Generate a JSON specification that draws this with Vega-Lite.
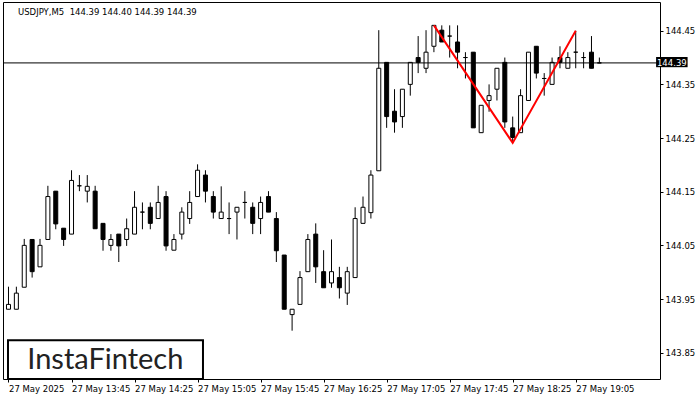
{
  "$schema": "https://vega.github.io/schema/vega-lite/v6.json",
  "width": 657,
  "height": 377,
  "autosize": {"type": "none"},
  "padding": {"left": 3, "top": 2, "right": 40, "bottom": 21},
  "background": "white",
  "config": {"view": {"stroke": "#000", "strokeWidth": 1}, "font": "DejaVu Sans"},
  "title": {"text": "USDJPY,M5 \u00a0144.39 144.40 144.39 144.39", "anchor": "start", "frame": "group", "orient": "top", "offset": -14, "dx": 15, "fontSize": 8.5, "fontWeight": "normal", "font": "DejaVu Sans", "color": "#000"},
  "data": {"values": [
    {"t": "2025-05-27T13:05:00Z", "o": 143.931, "h": 143.973, "l": 143.931, "c": 143.940},
    {"t": "2025-05-27T13:10:00Z", "o": 143.931, "h": 143.973, "l": 143.931, "c": 143.961},
    {"t": "2025-05-27T13:15:00Z", "o": 143.972, "h": 144.062, "l": 143.972, "c": 144.050},
    {"t": "2025-05-27T13:20:00Z", "o": 144.061, "h": 144.061, "l": 143.990, "c": 144.001},
    {"t": "2025-05-27T13:25:00Z", "o": 144.010, "h": 144.062, "l": 144.010, "c": 144.050},
    {"t": "2025-05-27T13:30:00Z", "o": 144.061, "h": 144.161, "l": 144.061, "c": 144.141},
    {"t": "2025-05-27T13:35:00Z", "o": 144.151, "h": 144.151, "l": 144.080, "c": 144.090},
    {"t": "2025-05-27T13:40:00Z", "o": 144.082, "h": 144.082, "l": 144.049, "c": 144.061},
    {"t": "2025-05-27T13:45:00Z", "o": 144.071, "h": 144.190, "l": 144.071, "c": 144.171},
    {"t": "2025-05-27T13:50:00Z", "o": 144.161, "h": 144.181, "l": 144.151, "c": 144.161},
    {"t": "2025-05-27T13:55:00Z", "o": 144.151, "h": 144.181, "l": 144.130, "c": 144.160},
    {"t": "2025-05-27T14:00:00Z", "o": 144.151, "h": 144.161, "l": 144.081, "c": 144.081},
    {"t": "2025-05-27T14:05:00Z", "o": 144.091, "h": 144.091, "l": 144.040, "c": 144.061},
    {"t": "2025-05-27T14:10:00Z", "o": 144.050, "h": 144.071, "l": 144.040, "c": 144.061},
    {"t": "2025-05-27T14:15:00Z", "o": 144.071, "h": 144.071, "l": 144.019, "c": 144.049},
    {"t": "2025-05-27T14:20:00Z", "o": 144.061, "h": 144.100, "l": 144.049, "c": 144.081},
    {"t": "2025-05-27T14:25:00Z", "o": 144.071, "h": 144.151, "l": 144.071, "c": 144.121},
    {"t": "2025-05-27T14:30:00Z", "o": 144.112, "h": 144.130, "l": 144.080, "c": 144.112},
    {"t": "2025-05-27T14:35:00Z", "o": 144.121, "h": 144.130, "l": 144.080, "c": 144.091},
    {"t": "2025-05-27T14:40:00Z", "o": 144.100, "h": 144.161, "l": 144.100, "c": 144.130},
    {"t": "2025-05-27T14:45:00Z", "o": 144.141, "h": 144.151, "l": 144.040, "c": 144.049},
    {"t": "2025-05-27T14:50:00Z", "o": 144.041, "h": 144.071, "l": 144.041, "c": 144.061},
    {"t": "2025-05-27T14:55:00Z", "o": 144.071, "h": 144.121, "l": 144.061, "c": 144.112},
    {"t": "2025-05-27T15:00:00Z", "o": 144.100, "h": 144.151, "l": 144.090, "c": 144.130},
    {"t": "2025-05-27T15:05:00Z", "o": 144.141, "h": 144.201, "l": 144.141, "c": 144.190},
    {"t": "2025-05-27T15:10:00Z", "o": 144.181, "h": 144.190, "l": 144.130, "c": 144.151},
    {"t": "2025-05-27T15:15:00Z", "o": 144.141, "h": 144.151, "l": 144.100, "c": 144.112},
    {"t": "2025-05-27T15:20:00Z", "o": 144.100, "h": 144.160, "l": 144.100, "c": 144.112},
    {"t": "2025-05-27T15:25:00Z", "o": 144.100, "h": 144.130, "l": 144.071, "c": 144.100},
    {"t": "2025-05-27T15:30:00Z", "o": 144.112, "h": 144.121, "l": 144.061, "c": 144.121},
    {"t": "2025-05-27T15:35:00Z", "o": 144.130, "h": 144.151, "l": 144.100, "c": 144.130},
    {"t": "2025-05-27T15:40:00Z", "o": 144.121, "h": 144.130, "l": 144.071, "c": 144.091},
    {"t": "2025-05-27T15:45:00Z", "o": 144.100, "h": 144.141, "l": 144.071, "c": 144.130},
    {"t": "2025-05-27T15:50:00Z", "o": 144.141, "h": 144.151, "l": 144.112, "c": 144.112},
    {"t": "2025-05-27T15:55:00Z", "o": 144.100, "h": 144.112, "l": 144.019, "c": 144.040},
    {"t": "2025-05-27T16:00:00Z", "o": 144.032, "h": 144.032, "l": 143.931, "c": 143.931},
    {"t": "2025-05-27T16:05:00Z", "o": 143.921, "h": 143.931, "l": 143.891, "c": 143.931},
    {"t": "2025-05-27T16:10:00Z", "o": 143.940, "h": 144.002, "l": 143.940, "c": 143.990},
    {"t": "2025-05-27T16:15:00Z", "o": 144.001, "h": 144.071, "l": 144.001, "c": 144.061},
    {"t": "2025-05-27T16:20:00Z", "o": 144.071, "h": 144.091, "l": 143.980, "c": 144.010},
    {"t": "2025-05-27T16:25:00Z", "o": 144.001, "h": 144.041, "l": 143.971, "c": 143.971},
    {"t": "2025-05-27T16:30:00Z", "o": 143.980, "h": 144.061, "l": 143.971, "c": 144.001},
    {"t": "2025-05-27T16:35:00Z", "o": 143.990, "h": 144.010, "l": 143.951, "c": 143.971},
    {"t": "2025-05-27T16:40:00Z", "o": 143.961, "h": 144.010, "l": 143.939, "c": 144.001},
    {"t": "2025-05-27T16:45:00Z", "o": 143.990, "h": 144.121, "l": 143.990, "c": 144.100},
    {"t": "2025-05-27T16:50:00Z", "o": 144.091, "h": 144.141, "l": 144.091, "c": 144.121},
    {"t": "2025-05-27T16:55:00Z", "o": 144.111, "h": 144.190, "l": 144.100, "c": 144.181},
    {"t": "2025-05-27T17:00:00Z", "o": 144.189, "h": 144.451, "l": 144.189, "c": 144.380},
    {"t": "2025-05-27T17:05:00Z", "o": 144.391, "h": 144.391, "l": 144.269, "c": 144.290},
    {"t": "2025-05-27T17:10:00Z", "o": 144.300, "h": 144.341, "l": 144.260, "c": 144.280},
    {"t": "2025-05-27T17:15:00Z", "o": 144.290, "h": 144.341, "l": 144.269, "c": 144.341},
    {"t": "2025-05-27T17:20:00Z", "o": 144.350, "h": 144.391, "l": 144.329, "c": 144.391},
    {"t": "2025-05-27T17:25:00Z", "o": 144.400, "h": 144.440, "l": 144.371, "c": 144.391},
    {"t": "2025-05-27T17:30:00Z", "o": 144.380, "h": 144.451, "l": 144.371, "c": 144.410},
    {"t": "2025-05-27T17:35:00Z", "o": 144.421, "h": 144.460, "l": 144.410, "c": 144.460},
    {"t": "2025-05-27T17:40:00Z", "o": 144.451, "h": 144.460, "l": 144.429, "c": 144.429},
    {"t": "2025-05-27T17:45:00Z", "o": 144.440, "h": 144.460, "l": 144.400, "c": 144.440},
    {"t": "2025-05-27T17:50:00Z", "o": 144.429, "h": 144.460, "l": 144.380, "c": 144.410},
    {"t": "2025-05-27T17:55:00Z", "o": 144.400, "h": 144.410, "l": 144.361, "c": 144.400},
    {"t": "2025-05-27T18:00:00Z", "o": 144.410, "h": 144.410, "l": 144.269, "c": 144.269},
    {"t": "2025-05-27T18:05:00Z", "o": 144.260, "h": 144.311, "l": 144.260, "c": 144.311},
    {"t": "2025-05-27T18:10:00Z", "o": 144.320, "h": 144.350, "l": 144.299, "c": 144.329},
    {"t": "2025-05-27T18:15:00Z", "o": 144.341, "h": 144.380, "l": 144.320, "c": 144.380},
    {"t": "2025-05-27T18:20:00Z", "o": 144.391, "h": 144.400, "l": 144.269, "c": 144.280},
    {"t": "2025-05-27T18:25:00Z", "o": 144.269, "h": 144.290, "l": 144.241, "c": 144.251},
    {"t": "2025-05-27T18:30:00Z", "o": 144.260, "h": 144.341, "l": 144.260, "c": 144.329},
    {"t": "2025-05-27T18:35:00Z", "o": 144.320, "h": 144.410, "l": 144.320, "c": 144.410},
    {"t": "2025-05-27T18:40:00Z", "o": 144.421, "h": 144.421, "l": 144.361, "c": 144.371},
    {"t": "2025-05-27T18:45:00Z", "o": 144.361, "h": 144.371, "l": 144.329, "c": 144.361},
    {"t": "2025-05-27T18:50:00Z", "o": 144.350, "h": 144.400, "l": 144.350, "c": 144.391},
    {"t": "2025-05-27T18:55:00Z", "o": 144.400, "h": 144.421, "l": 144.380, "c": 144.391},
    {"t": "2025-05-27T19:00:00Z", "o": 144.380, "h": 144.410, "l": 144.380, "c": 144.400},
    {"t": "2025-05-27T19:05:00Z", "o": 144.410, "h": 144.450, "l": 144.380, "c": 144.410},
    {"t": "2025-05-27T19:10:00Z", "o": 144.400, "h": 144.410, "l": 144.380, "c": 144.400},
    {"t": "2025-05-27T19:15:00Z", "o": 144.410, "h": 144.440, "l": 144.380, "c": 144.380},
    {"t": "2025-05-27T19:20:00Z", "o": 144.390, "h": 144.400, "l": 144.390, "c": 144.390}
  ]},
  "layer": [
    {
      "mark": {"type": "rule", "color": "#000", "strokeWidth": 1},
      "encoding": {
        "x": {"field": "t", "type": "temporal",
          "scale": {"type": "utc", "domain": [1748351081250, 1748375718750]},
          "axis": {"title": null, "values": [1748351100000, 1748353500000, 1748355900000, 1748358300000, 1748360700000, 1748363100000, 1748365500000, 1748367900000, 1748370300000, 1748372700000],
            "labelExpr": "utcFormat(datum.value, '%H:%M') == '13:05' ? '27 May 2025' : utcFormat(datum.value, '%d %b %H:%M')",
            "labelAlign": "left", "labelFlush": false, "labelOverlap": false, "grid": false, "domain": false,
            "tickColor": "#000", "tickSize": 3, "labelPadding": 2, "labelFont": "DejaVu Sans", "labelFontSize": 8.5, "labelColor": "#000"}},
        "y": {"field": "l", "type": "quantitative",
          "scale": {"domain": [143.801, 144.5035], "zero": false, "nice": false},
          "axis": {"title": null, "orient": "right", "values": [143.85, 143.95, 144.05, 144.15, 144.25, 144.35, 144.45], "format": ".2f",
            "grid": false, "domain": false, "tickColor": "#000", "tickSize": 3, "labelPadding": 2, "labelFont": "DejaVu Sans", "labelFontSize": 8.5, "labelColor": "#000"}},
        "y2": {"field": "h"}
      }
    },
    {
      "mark": {"type": "bar", "size": 4, "stroke": "#000", "strokeWidth": 1},
      "encoding": {
        "x": {"field": "t", "type": "temporal"},
        "y": {"field": "o", "type": "quantitative"},
        "y2": {"field": "c"},
        "fill": {"condition": {"test": "datum.c < datum.o", "value": "#000"}, "value": "#fff"}
      }
    },
    {
      "data": {"values": [{"p": 144.39}]},
      "mark": {"type": "rule", "color": "#000", "strokeWidth": 1},
      "encoding": {"y": {"field": "p", "type": "quantitative"}}
    },
    {
      "data": {"values": [
        {"t": "2025-05-27T17:35:00Z", "p": 144.460},
        {"t": "2025-05-27T18:25:00Z", "p": 144.241},
        {"t": "2025-05-27T19:05:00Z", "p": 144.450}
      ]},
      "mark": {"type": "line", "color": "#ff0000", "strokeWidth": 2},
      "encoding": {"x": {"field": "t", "type": "temporal"}, "y": {"field": "p", "type": "quantitative"}}
    },
    {
      "data": {"values": [{"label": "144.39", "p": 144.39}]},
      "mark": {"type": "rect", "fill": "#000"},
      "encoding": {
        "x": {"datum": {"year": 2025, "month": 5, "date": 27, "hours": 19, "minutes": 56, "utc": true}, "type": "temporal"},
        "x2": {"datum": {"year": 2025, "month": 5, "date": 27, "hours": 20, "minutes": 16, "utc": true}},
        "y": {"datum": 144.382, "type": "quantitative"},
        "y2": {"datum": 144.401}
      }
    },
    {
      "data": {"values": [{"label": "144.39", "p": 144.39}]},
      "mark": {"type": "text", "color": "#fff", "font": "DejaVu Sans", "fontSize": 8.5, "align": "center", "baseline": "middle"},
      "encoding": {
        "x": {"datum": {"year": 2025, "month": 5, "date": 27, "hours": 20, "minutes": 6, "utc": true}, "type": "temporal"},
        "y": {"field": "p", "type": "quantitative"},
        "text": {"field": "label"}
      }
    },
    {
      "data": {"values": [{"brand": "InstaFintech"}]},
      "mark": {"type": "rect", "fill": "#fff", "stroke": "#000", "strokeWidth": 2},
      "encoding": {
        "x": {"datum": {"year": 2025, "month": 5, "date": 27, "hours": 13, "minutes": 4, "seconds": 41, "utc": true}, "type": "temporal"},
        "x2": {"datum": {"year": 2025, "month": 5, "date": 27, "hours": 15, "minutes": 8, "seconds": 26, "utc": true}},
        "y": {"datum": 143.801, "type": "quantitative"},
        "y2": {"datum": 143.873}
      }
    },
    {
      "data": {"values": [{"brand": "InstaFintech"}]},
      "mark": {"type": "text", "color": "#222", "font": "Lato", "fontSize": 29, "fontWeight": "normal", "align": "center", "baseline": "alphabetic"},
      "encoding": {
        "x": {"datum": {"year": 2025, "month": 5, "date": 27, "hours": 14, "minutes": 6, "seconds": 26, "utc": true}, "type": "temporal"},
        "y": {"datum": 143.819, "type": "quantitative"},
        "text": {"field": "brand"}
      }
    }
  ]
}
